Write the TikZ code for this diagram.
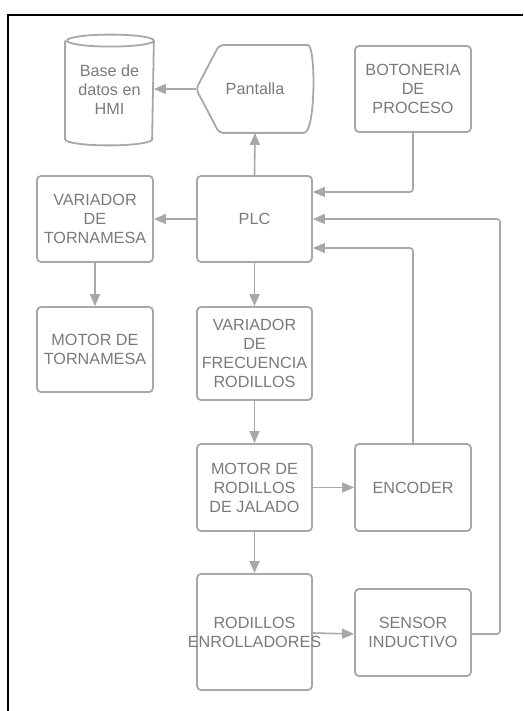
\documentclass[tikz,border=0pt]{standalone}
\usepackage{fontspec}
\setmainfont{Liberation Sans}
\usetikzlibrary{arrows.meta}
\definecolor{edgegray}{HTML}{A8A8A8}
\definecolor{textgray}{HTML}{7A7A7A}
\begin{document}
\begin{tikzpicture}[x=1pt,y=-1pt,
  blk/.style={draw=edgegray,line width=1.8pt,rounded corners=4pt,
    minimum width=116pt,minimum height=86pt,inner sep=0pt,
    text=textgray,align=center,font=\fontsize{16.2}{19}\selectfont},
  ghost/.style={blk,draw=none},
  link/.style={draw=edgegray,line width=1.6pt,rounded corners=3pt,
    -{Triangle[length=12pt,width=10pt]}}]
\useasboundingbox (0,0) rectangle (523,711);

% page frame
\draw[line width=2pt] (7.5,711) -- (7.5,15.5) -- (523,15.5);

% database cylinder
\node[ghost,minimum width=87pt,minimum height=85pt] (db) at (109.5,90) {Base de\\datos en\\HMI};
\draw[edgegray,line width=1.8pt]
  ([yshift=6pt]db.north west) -- ([yshift=-6pt]db.south west)
  arc[start angle=180,end angle=360,x radius=43.5pt,y radius=6pt]
  -- ([yshift=6pt]db.north east)
  arc[start angle=0,end angle=360,x radius=43.5pt,y radius=6pt];

% display shape
\node[ghost] (pant) at (255,89) {Pantalla};
\draw[edgegray,line width=1.8pt,rounded corners=4pt]
  (pant.west) -- ([xshift=23pt]pant.north west) -- ([xshift=-10pt]pant.north east)
  [sharp corners] .. controls ([xshift=2pt]pant.north east) and ([xshift=2pt]pant.south east) ..
  ([xshift=-10pt]pant.south east)
  [rounded corners=4pt] -- ([xshift=23pt]pant.south west) -- cycle;

\node[blk] (bot) at (413,89) {BOTONERIA\\DE\\PROCESO};
\node[blk] (vt) at (95,219) {VARIADOR\\DE\\TORNAMESA};
\node[blk,minimum width=115pt] (plc) at (254.5,219) {PLC};
\node[blk,minimum height=85pt] (mt) at (95,349.5) {MOTOR DE\\TORNAMESA};
\node[blk,minimum width=115pt,minimum height=93pt] (vf) at (254.5,353.5) {VARIADOR\\DE\\FRECUENCIA\\RODILLOS};
\node[blk,minimum width=115pt,minimum height=87pt] (mr) at (254.5,487.5) {MOTOR DE\\RODILLOS\\DE JALADO};
\node[blk,minimum height=87pt] (enc) at (413,487.5) {ENCODER};
% the second line runs past the box edges
\node[blk,minimum width=115pt,minimum height=116pt] (rod) at (254.5,632) {RODILLOS\\\makebox[0pt]{ENROLLADORES}};
\node[blk,minimum height=87pt] (sen) at (413,632.5) {SENSOR\\INDUCTIVO};

\coordinate (busx) at (500,0);

% connectors
\draw[link] (pant.west) -- (db.east |- pant.west);
\draw[link] (plc.north) -- (pant.south);
\draw[link] (plc.west) -- (vt.east);
\draw[link] (vt.south) -- (mt.north);
\draw[link] (plc.south) -- (vf.north);
\draw[link] (vf.south) -- (mr.north);
\draw[link] (mr.south) -- (rod.north);
\draw[link] (mr.east) -- (enc.west);
\draw[link] ([yshift=-1pt]rod.east) -- ([yshift=-1.5pt]sen.west);
\draw[link] (bot.south) |- ([yshift=27pt]plc.east);
\draw[link] (enc.north) |- ([yshift=-29pt]plc.east);
\draw[link] ([yshift=-1.5pt]sen.east) -| (busx |- plc.east) -- (plc.east);
\end{tikzpicture}
\end{document}
